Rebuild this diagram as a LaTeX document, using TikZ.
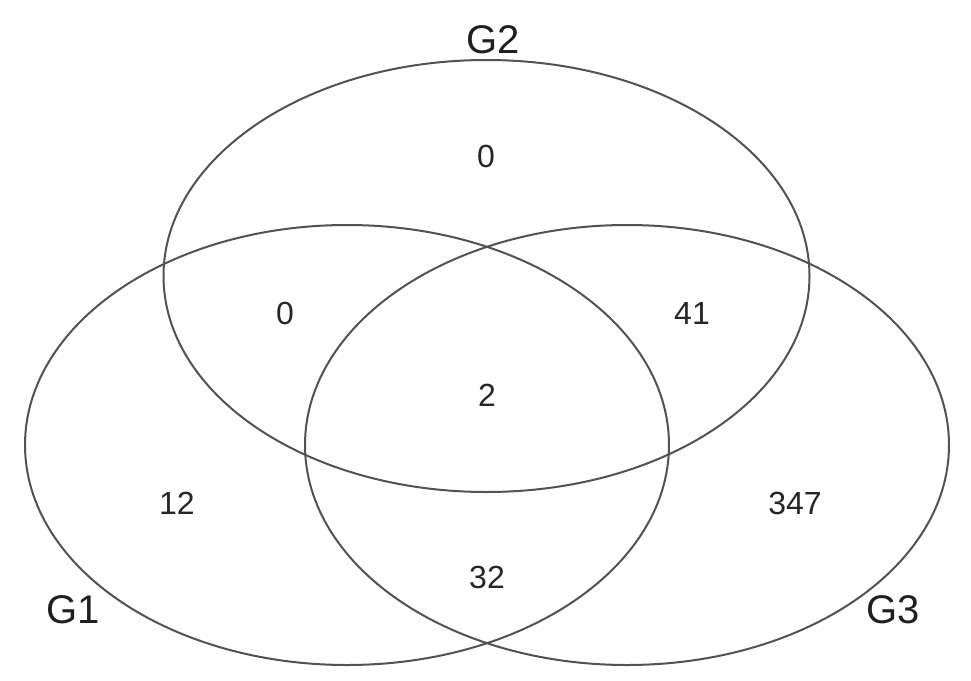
\documentclass[tikz,border=0pt]{standalone}
\usepackage{fontspec}
\setmainfont{Liberation Sans}
\begin{document}
\begin{tikzpicture}[x=1pt,y=-1pt,
  setline/.style={draw=black!68, line width=2pt},
  setname/.style={text=black!88, font=\fontsize{40}{40}\selectfont, inner sep=0pt},
  count/.style={text=black!85, font=\fontsize{32}{32}\selectfont, inner sep=0pt}]
\useasboundingbox (0,0) rectangle (971,680);
\coordinate (c1) at (347,445);
\coordinate (c2) at (486.5,276);
\coordinate (c3) at (627,445);
\draw[setline] (c2) ellipse [x radius=323, y radius=216];
\draw[setline] (c1) ellipse [x radius=322, y radius=220];
\draw[setline] (c3) ellipse [x radius=322, y radius=220];
\node[setname] (g2) at (493,40) {G2};
\node[setname] (g1) at (73,610) {G1};
\node[setname] (g3) at (893,610) {G3};
\node[count] (n2only) at (486,156) {0};
\node[count] (n12) at (285,313) {0};
\node[count] (n23) at (692,313) {41};
\node[count] (n123) at (487,395) {2};
\node[count] (n1only) at (177,503) {12};
\node[count] (n3only) at (795,503) {347};
\node[count] (n13) at (487,577) {32};
\end{tikzpicture}
\end{document}
